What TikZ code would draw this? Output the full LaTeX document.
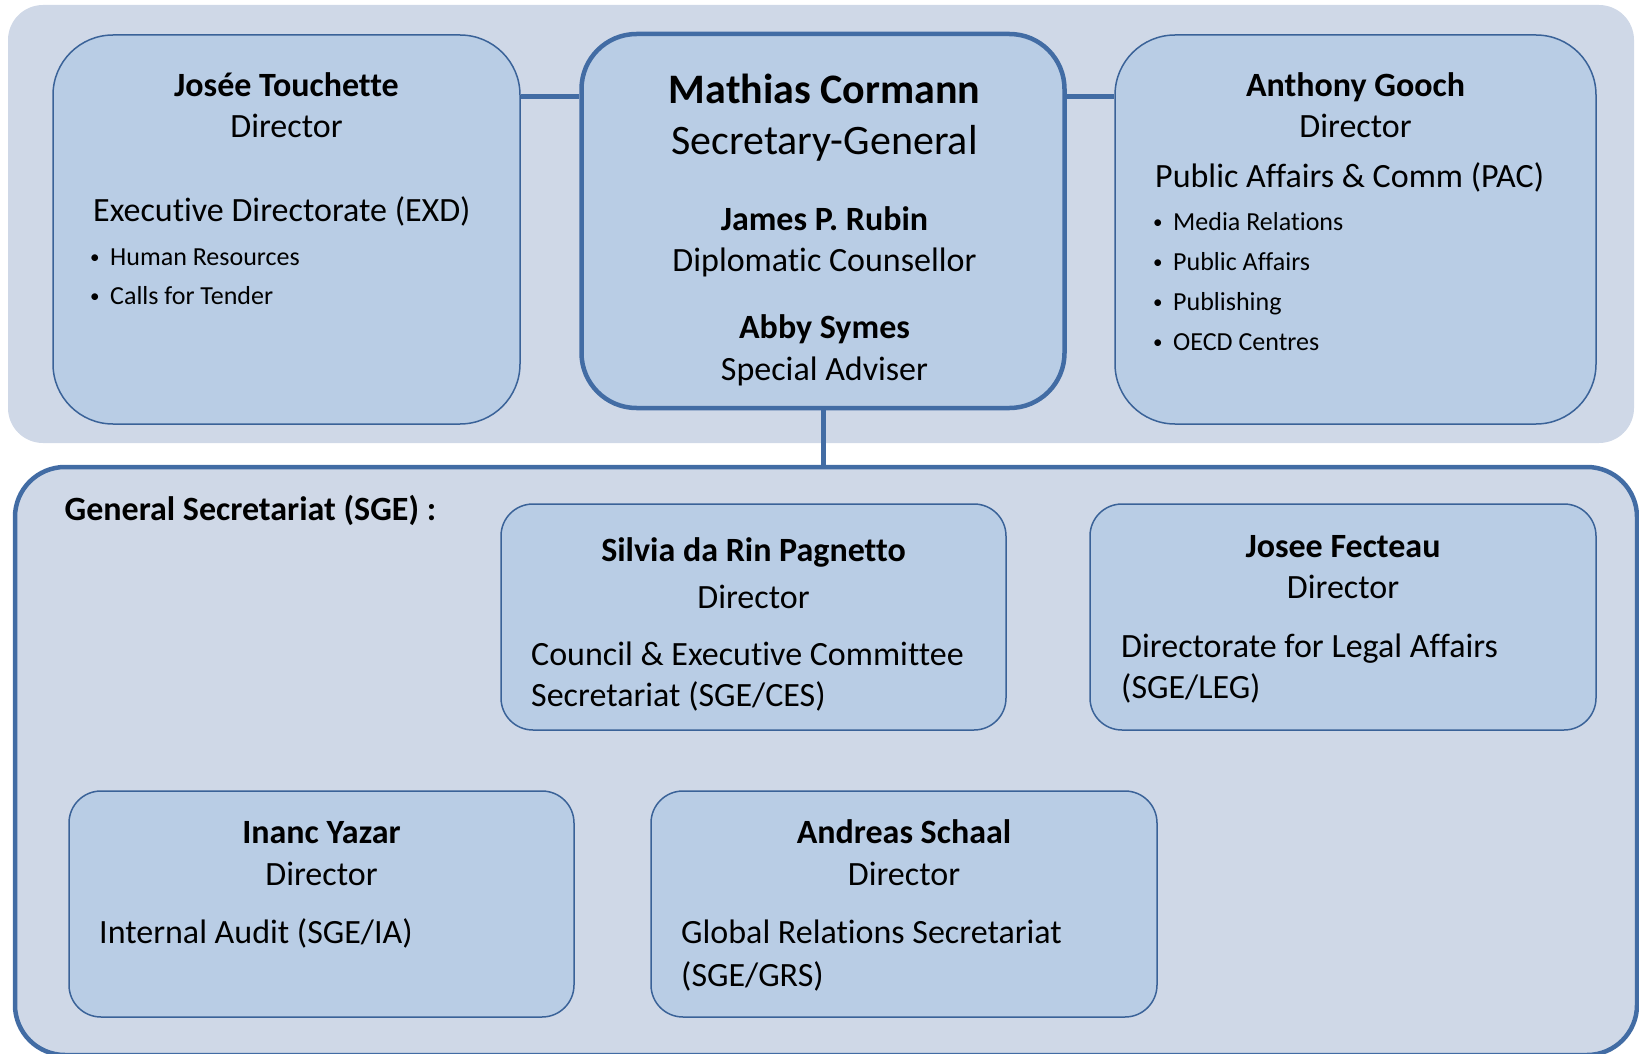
\documentclass[tikz,border=0pt]{standalone}
\usepackage{fontspec}
\setmainfont[Ligatures=NoCommon]{Carlito}
\usepackage{tikz}
\usetikzlibrary{positioning}

\definecolor{panelfill}{RGB}{207,216,231}
\definecolor{boxfill}{RGB}{185,205,229}
\definecolor{boxline}{RGB}{58,98,152}
\definecolor{heavyline}{RGB}{66,108,164}

\newcommand{\bul}{\makebox[20pt][l]{\raisebox{1.5pt}{\fontsize{19}{20}\selectfont\textbullet}}}

\begin{document}
\begin{tikzpicture}[x=1pt,y=1pt]
\tikzstyle{every node}+=[inner sep=0pt]
\tikzstyle{panel}=[fill=panelfill, rounded corners=35pt]
\tikzstyle{sgpanel}=[fill=panelfill, draw=heavyline, line width=4.5pt, rounded corners=50pt]
\tikzstyle{unit}=[fill=boxfill, draw=boxline, line width=1.5pt, rounded corners=60pt]
\tikzstyle{heavy}=[draw=heavyline, line width=4.5pt, rounded corners=55pt]
\tikzstyle{small unit}=[unit, rounded corners=32pt]
\tikzstyle{link}=[draw=heavyline, line width=5pt]
\tikzstyle{txt}=[font=\fontsize{34}{41}\selectfont, anchor=base]
\tikzstyle{txtl}=[txt, anchor=base west]
\tikzstyle{big}=[font=\fontsize{42}{50}\selectfont, anchor=base]
\tikzstyle{bullet}=[font=\fontsize{26}{31}\selectfont, anchor=base west]
\useasboundingbox (0,0) rectangle (1639,-1054);
% top row
\node [panel, minimum width=1626pt, minimum height=438pt] (top) at (821,-224) {};
\node [unit, minimum width=467pt, minimum height=389pt] (exd) at (286.5,-229.5) {};
\node [unit, heavy, minimum width=483pt, minimum height=374pt] (sg) at (823,-221) {};
\node [unit, minimum width=481pt, minimum height=389pt] (pac) at (1355.5,-229.5) {};
\coordinate (lvl) at (0,-97);
\draw [link] (exd.east |- lvl) -- (sg.west |- lvl);
\draw [link] (sg.east |- lvl) -- (pac.west |- lvl);
% general secretariat
\node [sgpanel, minimum width=1622pt, minimum height=588pt] (sge) at (826,-761) {};
\draw [link] (sg.south) -- (sg.south |- sge.north);
\node [small unit, minimum width=505pt, minimum height=226pt] (ces) at (753.5,-617) {};
\node [small unit, minimum width=506pt, minimum height=226pt] (leg) at (1343,-617) {};
\node [small unit, minimum width=505pt, minimum height=226pt] (ia) at (321.5,-904) {};
\node [small unit, minimum width=506pt, minimum height=226pt] (grs) at (904,-904) {};
% EXD
\node [txt] (exd1) at (286.5,-96.7) {\bfseries Josée Touchette};
\node [txt] (exd2) at (286.5,-138) {Director};
\node [txtl] (exd3) at (93,-221.7) {Executive Directorate (EXD)};
\node [bullet] (exd4) at (90,-265) {\bul Human Resources};
\node [bullet] (exd5) at (90,-304) {\bul Calls for Tender};
% SG
\node [big] (sg1) at (824.5,-103.3) {\bfseries Mathias Cormann};
\node [big] (sg2) at (824.5,-155) {Secretary-General};
\node [txt] (sg3) at (824.5,-230) {\bfseries James P. Rubin};
\node [txt] (sg4) at (824.5,-271.7) {Diplomatic Counsellor};
\node [txt] (sg5) at (824.5,-338) {\bfseries Abby Symes};
\node [txt] (sg6) at (824.5,-380) {Special Adviser};
% PAC
\node [txt] (pac1) at (1355.5,-96.7) {\bfseries Anthony Gooch};
\node [txt] (pac2) at (1355.5,-137.3) {Director};
\node [txtl] (pac3) at (1155,-187.7) {Public Affairs \& Comm (PAC)};
\node [bullet] (pac4) at (1153,-230) {\bul Media Relations};
\node [bullet] (pac5) at (1153,-270) {\bul Public Affairs};
\node [bullet] (pac6) at (1153,-310) {\bul Publishing};
\node [bullet] (pac7) at (1153,-350) {\bul OECD Centres};
% SGE
\node [txtl] (sge1) at (64.5,-520.7) {\bfseries General Secretariat (SGE) :};
\node [txt] (ces1) at (753.5,-561.7) {\bfseries Silvia da Rin Pagnetto};
\node [txt] (ces2) at (753.5,-608) {Director};
\node [txtl] (ces3) at (531,-665) {Council \& Executive Committee};
\node [txtl] (ces4) at (531,-706.7) {Secretariat (SGE/CES)};
\node [txt] (leg1) at (1343,-557) {\bfseries Josee Fecteau};
\node [txt] (leg2) at (1343,-598.5) {Director};
\node [txtl] (leg3) at (1121,-657) {Directorate for Legal Affairs};
\node [txtl] (leg4) at (1121,-698) {(SGE/LEG)};
\node [txt] (ia1) at (321.5,-843.3) {\bfseries Inanc Yazar};
\node [txt] (ia2) at (321.5,-885) {Director};
\node [txtl] (ia3) at (99,-943.3) {Internal Audit (SGE/IA)};
\node [txt] (grs1) at (904,-843.3) {\bfseries Andreas Schaal};
\node [txt] (grs2) at (904,-885) {Director};
\node [txtl] (grs3) at (681,-943.3) {Global Relations Secretariat};
\node [txtl] (grs4) at (681,-986.7) {(SGE/GRS)};
\end{tikzpicture}
\end{document}
